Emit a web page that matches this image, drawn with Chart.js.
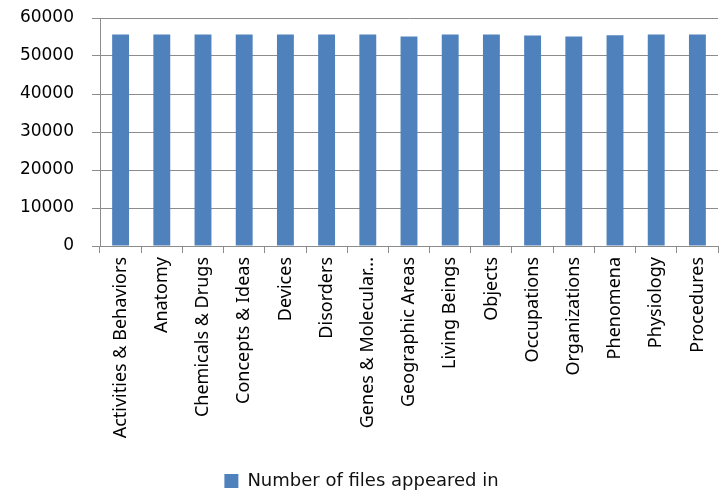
<!DOCTYPE html>
<html>
<head>
<meta charset="utf-8">
<script src="https://cdn.jsdelivr.net/npm/chart.js@4/dist/chart.umd.min.js"></script>
<style>
  html, body { margin: 0; padding: 0; background: #fff; }
  #grafico { display: block; }
</style>
</head>
<body>
<canvas id="grafico" width="723" height="492"></canvas>
<script>
// categorias e valores
const categorias = [
    "Activities & Behaviors", "Anatomy", "Chemicals & Drugs", "Concepts & Ideas",
    "Devices", "Disorders", "Genes & Molecular...", "Geographic Areas",
    "Living Beings", "Objects", "Occupations", "Organizations",
    "Phenomena", "Physiology", "Procedures"
];
const numeroArquivos = [
    55650, 55650, 55650, 55650,
    55650, 55650, 55650, 55100,
    55650, 55650, 55400, 55100,
    55450, 55650, 55650
];
const ticksY = [0, 10000, 20000, 30000, 40000, 50000, 60000];
const nomeSerie = "Number of files appeared in";

const corBarra = "#4F81BD";
const corGrade = "#8c8c8c";

const ctx = document.getElementById("grafico").getContext("2d");
const chart = new Chart(ctx, {
    type: "bar",
    data: {
        labels: categorias,
        datasets: [{
            label: nomeSerie,
            data: numeroArquivos,
            backgroundColor: corBarra,
            borderWidth: 0,
            barPercentage: 0.41,
            categoryPercentage: 1.0
        }]
    },
    options: {
        responsive: false,
        animation: false,
        layout: { padding: { top: 18, right: 0, left: 0, bottom: -8 } },
        plugins: {
            tooltip: { enabled: false },
            legend: {
                position: "bottom",
                labels: {
                    boxWidth: 14,
                    boxHeight: 14,
                    padding: 2,
                    color: "#111",
                    font: { family: "DejaVu Sans", size: 18 }
                }
            }
        },
        scales: {
            x: {
                grid: {
                    offset: true,
                    drawOnChartArea: false,
                    drawTicks: true,
                    tickLength: 7,
                    color: corGrade
                },
                border: { color: corGrade },
                ticks: {
                    autoSkip: false,
                    maxRotation: 90,
                    minRotation: 90,
                    padding: 4,
                    color: "#000",
                    font: { family: "Noto Sans", size: 18 }
                },
                afterFit: function (scale) { scale.height = 224; }
            },
            y: {
                min: 0,
                max: 60000,
                afterBuildTicks: function (scale) {
                    scale.ticks = ticksY.map(v => ({ value: v }));
                },
                grid: {
                    color: corGrade,
                    tickLength: 8
                },
                border: { color: corGrade },
                ticks: {
                    padding: 18,
                    color: "#000",
                    font: { family: "DejaVu Sans", size: 17 },
                    callback: function (valor) { return String(valor); }
                },
                afterFit: function (scale) {
                    scale.width = 100;
                    scale.paddingTop = 0;
                }
            }
        }
    }
});
</script>
</body>
</html>
